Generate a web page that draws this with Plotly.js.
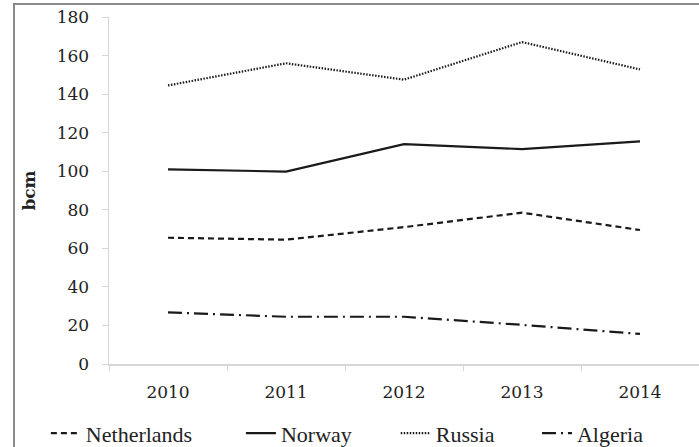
<!DOCTYPE html>
<html><head><meta charset="utf-8">
<script src="https://cdn.plot.ly/plotly-3.0.1.min.js"></script>
<style>
html,body{margin:0;padding:0;background:#fff;}
#wrap{position:relative;width:699px;height:447px;overflow:hidden;}
#chart{position:absolute;left:0;top:0;width:699px;height:447px;}
#frame{position:absolute;left:13px;top:3px;width:700px;height:460px;border-left:2px solid #8a8a8a;border-top:2px solid #8a8a8a;pointer-events:none;}
</style>
</head><body>
<div id="wrap"><div id="chart"></div><div id="frame"></div></div>
<script>
const years = ['2010','2011','2012','2013','2014'];
const netherlands = [65.5, 64.5, 71, 78.5, 69.5];
const norway = [101, 99.8, 114, 111.5, 115.5];
const russia = [144.5, 156, 147.5, 167, 152.8];
const algeria = [26.8, 24.5, 24.5, 20.3, 15.6];
const yTicks = [0,20,40,60,80,100,120,140,160,180];

const col = '#1a1a1a';
function tr(name, y, dash, lg){
  return {x: years, y: y, name: name, type:'scatter', mode:'lines', legend: lg,
    line:{color:col, width:2.2, dash:dash}};
}
const data = [
  tr('Netherlands', netherlands, '6px,4px', 'legend'),
  tr('Norway', norway, 'solid', 'legend2'),
  tr('Russia', russia, '1.5px,1.5px', 'legend3'),
  tr('Algeria', algeria, '14px,5px,2px,5px', 'legend4')
];
function lg(x){
  return {orientation:'h', x:x, xanchor:'left', y:-0.2, yanchor:'middle',
    bgcolor:'rgba(0,0,0,0)',
    font:{family:'"Liberation Serif", serif', size:22, color:'#222'},
    itemwidth:30, tracegroupgap:0};
}
const layout = {
  width:699, height:447,
  margin:{l:109, r:0, t:17, b:83, autoexpand:false},
  paper_bgcolor:'#fff', plot_bgcolor:'#fff',
  font:{family:'"DejaVu Serif", serif', color:'#222', size:14},
  showlegend:true,
  legend: lg(-0.107),
  legend2: lg(0.2236),
  legend3: lg(0.486),
  legend4: lg(0.7254),
  xaxis:{type:'category', showgrid:false, showline:true, linecolor:'#d6d6d6', linewidth:1.5,
    ticks:'outside', tickson:'boundaries', ticklen:5, tickcolor:'#d6d6d6',
    tickfont:{family:'"DejaVu Serif", serif', size:17, color:'#222'},
    ticklabelstandoff:12,
    range:[-0.5,4.5], zeroline:false},
  yaxis:{range:[0,180], tickvals:yTicks, showgrid:false, showline:true, linecolor:'#d6d6d6', linewidth:1.5,
    ticks:'outside', ticklen:6, tickcolor:'#d6d6d6', zeroline:false,
    tickfont:{family:'"DejaVu Serif", serif', size:17, color:'#222'},
    ticklabelstandoff:9,
    title:{text:'<b>bcm</b>', font:{family:'"DejaVu Serif", serif', size:17, color:'#222'}, standoff:16}}
};
Plotly.newPlot('chart', data, layout, {displayModeBar:false, staticPlot:true});
</script>
</body></html>
